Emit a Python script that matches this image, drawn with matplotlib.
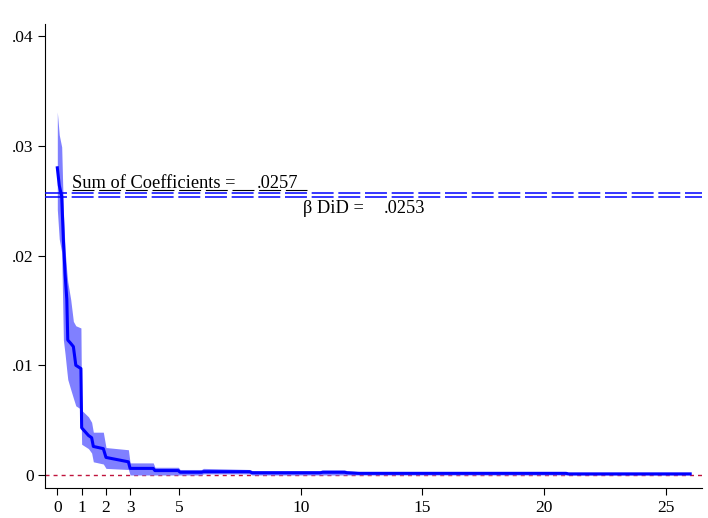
import matplotlib
matplotlib.use("Agg")
import matplotlib.pyplot as plt

plt.rcParams['lines.scale_dashes'] = False
plt.rcParams['font.family'] = ['Liberation Serif', 'DejaVu Serif']

# Data
x_vals = [0.00, 0.08, 0.18, 0.25, 0.32, 0.39, 0.43, 0.55, 0.66, 0.76, 0.97, 1.00,
          1.28, 1.41, 1.48, 1.89, 2.00, 2.92, 2.99, 3.94, 4.01, 4.97, 5.04, 5.93,
          6.00, 7.90, 8.00, 10.8, 10.9, 11.8, 11.9, 12.4, 13.9, 14.5, 20.9, 21.0, 26.0]
coef = [0.0280, 0.0264, 0.0254, 0.0214, 0.0183, 0.0160, 0.0123, 0.0120, 0.0117, 0.0100, 0.0097, 0.0043,
        0.0036, 0.0034, 0.0026, 0.0024, 0.0016, 0.0012, 0.0006, 0.0006, 0.0004, 0.0004, 0.00025, 0.00025,
        0.0003, 0.0003, 0.0002, 0.0002, 0.00025, 0.00025, 0.0002, 0.00015, 0.00015, 0.00015, 0.00015, 0.0001, 0.0001]
upper = [0.0331, 0.0310, 0.0299, 0.0240, 0.0205, 0.0185, 0.0176, 0.0160, 0.0140, 0.0136, 0.0134, 0.0059,
         0.0053, 0.0048, 0.0039, 0.0039, 0.0025, 0.0023, 0.0011, 0.0011, 0.0007, 0.0007, 0.0005, 0.0005,
         0.0006, 0.0005, 0.0004, 0.0004, 0.00045, 0.00045, 0.0004, 0.0003, 0.0003, 0.0003, 0.0003, 0.0002, 0.0002]
lower = [0.0242, 0.0215, 0.0203, 0.0123, 0.0110, 0.0095, 0.0087, 0.0078, 0.0070, 0.0063, 0.0060, 0.0028,
         0.0024, 0.0020, 0.0012, 0.0010, 0.0006, 0.0005, 0.0000, 0.0000, 0.0000, 0.0000, 0.0000, 0.0000,
         0.0001, 0.0001, 0.0000, 0.0000, 0.0000, 0.0000, 0.0000, 0.0000, 0.0000, 0.0000, 0.0000, 0.0000, 0.0000]

sum_coef = 0.0257
beta_did = 0.0253
underline_y = 0.0260
underline_x = [0.59, 10.27]

x_ticks = [0, 1, 2, 3, 5, 10, 15, 20, 25]
y_ticks = [0, 0.01, 0.02, 0.03, 0.04]
y_ticklabels = ['0', '.01', '.02', '.03', '.04']

fig = plt.figure(figsize=(7.08, 5.18), dpi=100)
ax = fig.add_axes([0.064, 0.0585, 0.927, 0.8952])

ax.fill_between(x_vals, lower, upper, color='#8080ff', linewidth=0, zorder=2)
ax.plot(x_vals, coef, color='#0000ff', linewidth=2.2, zorder=3)

dash = (0, (15.8, 3.4))
ax.axhline(sum_coef, color='#0000ff', linewidth=1.1, linestyle=dash, zorder=4)
ax.axhline(beta_did, color='#0000ff', linewidth=1.1, linestyle=dash, zorder=4)
ax.plot(underline_x, [underline_y, underline_y], color='black', linewidth=0.8,
        linestyle=dash, zorder=4)
ax.axhline(0, color='#c0143c', linewidth=1.0, linestyle=(0, (2.9, 2.9)), zorder=1)

ax.text(0.59, 0.02616, 'Sum of Coefficients =', fontsize=13.2, ha='left', va='baseline')
ax.text(8.18, 0.02616, '.0257', fontsize=13.2, ha='left', va='baseline')
ax.text(10.11, 0.02385, 'β DiD =', fontsize=13.2, ha='left', va='baseline')
ax.text(13.40, 0.02385, '.0253', fontsize=13.2, ha='left', va='baseline')

ax.set_xlim(-0.493, 26.47)
ax.set_ylim(-0.00116, 0.04111)
ax.set_xticks(x_ticks)
ax.set_yticks(y_ticks)
ax.set_yticklabels(y_ticklabels)
ax.tick_params(axis='both', direction='out', length=5, width=0.8, labelsize=12.5, pad=3.5)
for s in ['top', 'right']:
    ax.spines[s].set_visible(False)
for s in ['left', 'bottom']:
    ax.spines[s].set_linewidth(0.8)

fig.savefig('out.png', dpi=100)
